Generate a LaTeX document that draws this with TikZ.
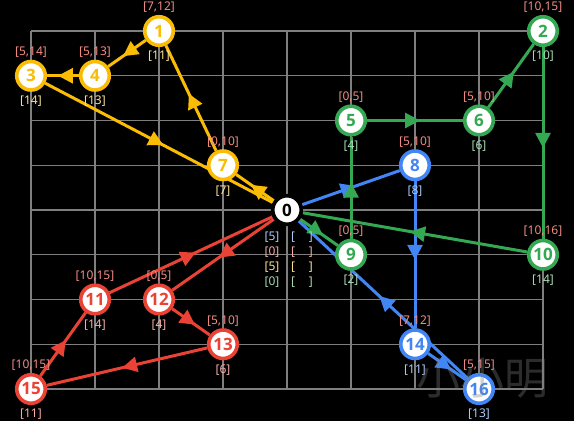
\documentclass[tikz,border=0pt]{standalone}
\usepackage{fontspec}
\setmainfont{Noto Sans}
\newfontfamily\numfont{Open Sans}
\newfontfamily\cjkfont{Noto Sans CJK SC}
\usetikzlibrary{arrows.meta,decorations.markings}
\definecolor{gyellow}{HTML}{FBBC05}
\definecolor{ggreen}{HTML}{34A853}
\definecolor{gblue}{HTML}{4285F4}
\definecolor{gred}{HTML}{EA4335}
\definecolor{lyellow}{HTML}{FDE293}
\definecolor{lgreen}{HTML}{A8DAB5}
\definecolor{lblue}{HTML}{AECBFA}
\definecolor{lred}{HTML}{F6AEA9}
\definecolor{wincol}{HTML}{F28B82}
\definecolor{gridcol}{HTML}{7F7F7F}
\pgfdeclarelayer{back}
\pgfdeclarelayer{edges}
\pgfsetlayers{back,edges,main}
\begin{document}
\begin{tikzpicture}[x=64pt,y=-44.75pt,
 vtx/.style={circle,draw=#1,fill=white,line width=3.6pt,minimum size=28.5pt,inner sep=0pt,text=#1,font=\numfont\bfseries\fontsize{17}{17}\selectfont},
 window/.style={label={[text=wincol,font=\fontsize{12}{12}\selectfont,anchor=center,yshift=7.5pt]90:{#1}}},
 arrive/.style 2 args={label={[text=#1,font=\fontsize{12}{12}\selectfont,anchor=center,yshift=-9.5pt]-90:{#2}}},
 route/.style={draw=#1,line width=3pt,postaction={decorate},decoration={markings,mark=at position 0.5 with {\arrow[xshift=5pt]{Triangle[length=15pt,width=15pt,color=#1]}}}},
 tag/.style={text=#1,font=\fontsize{12}{12}\selectfont}]
 \useasboundingbox (-31pt,31pt) rectangle (543pt,-390pt);
 \begin{pgfonlayer}{back}
 \fill[black] (-31pt,31pt) rectangle (543pt,-390pt);
 \foreach \i in {0,...,8} {
     \draw[gridcol,line width=1.2pt] (\i,0) -- (\i,8);
     \draw[gridcol,line width=1.2pt] (0,\i) -- (8,\i);
 }
 \end{pgfonlayer}
 % depot
 \node[vtx=black] (n0) at (4,4) {0};
 \node[tag=lblue,xshift=-15pt,yshift=-27pt] (s1) at (n0) {[5]};
 \node[tag=lred,xshift=-15pt,yshift=-42pt] (s2) at (n0) {[0]};
 \node[tag=lyellow,xshift=-15pt,yshift=-57pt] (s3) at (n0) {[5]};
 \node[tag=lgreen,xshift=-15pt,yshift=-72pt] (s4) at (n0) {[0]};
 \node[tag=lblue,xshift=15pt,yshift=-27pt] (e1) at (n0) {[\hphantom{00}]};
 \node[tag=lred,xshift=15pt,yshift=-42pt] (e2) at (n0) {[\hphantom{00}]};
 \node[tag=lyellow,xshift=15pt,yshift=-57pt] (e3) at (n0) {[\hphantom{00}]};
 \node[tag=lgreen,xshift=15pt,yshift=-72pt] (e4) at (n0) {[\hphantom{00}]};
 % customers
 \node[vtx=gyellow,window={[7,12]},arrive={lyellow}{[11]}] (n1) at (2,0) {1};
 \node[vtx=ggreen,window={[10,15]},arrive={lgreen}{[10]}] (n2) at (8,0) {2};
 \node[vtx=gyellow,window={[5,14]},arrive={lyellow}{[14]}] (n3) at (0,1) {3};
 \node[vtx=gyellow,window={[5,13]},arrive={lyellow}{[13]}] (n4) at (1,1) {4};
 \node[vtx=ggreen,window={[0,5]},arrive={lgreen}{[4]}] (n5) at (5,2) {5};
 \node[vtx=ggreen,window={[5,10]},arrive={lgreen}{[6]}] (n6) at (7,2) {6};
 \node[vtx=gyellow,window={[0,10]},arrive={lyellow}{[7]}] (n7) at (3,3) {7};
 \node[vtx=gblue,window={[5,10]},arrive={lblue}{[8]}] (n8) at (6,3) {8};
 \node[vtx=ggreen,window={[0,5]},arrive={lgreen}{[2]}] (n9) at (5,5) {9};
 \node[vtx=ggreen,window={[10,16]},arrive={lgreen}{[14]}] (n10) at (8,5) {10};
 \node[vtx=gred,window={[10,15]},arrive={lred}{[14]}] (n11) at (1,6) {11};
 \node[vtx=gred,window={[0,5]},arrive={lred}{[4]}] (n12) at (2,6) {12};
 \node[vtx=gred,window={[5,10]},arrive={lred}{[6]}] (n13) at (3,7) {13};
 \node[vtx=gblue,window={[7,12]},arrive={lblue}{[11]}] (n14) at (6,7) {14};
 \node[vtx=gred,window={[10,15]},arrive={lred}{[11]}] (n15) at (0,8) {15};
 \node[vtx=gblue,window={[5,15]},arrive={lblue}{[13]}] (n16) at (7,8) {16};
 % routes
 \begin{pgfonlayer}{edges}
 \draw[route=gblue] (n0) -- (n8);
 \draw[route=gblue] (n8) -- (n14);
 \draw[route=gblue] (n14) -- (n16);
 \draw[route=gblue] (n16) -- (n0);
 \draw[route=ggreen] (n0) -- (n9);
 \draw[route=ggreen] (n9) -- (n5);
 \draw[route=ggreen] (n5) -- (n6);
 \draw[route=ggreen] (n6) -- (n2);
 \draw[route=ggreen] (n2) -- (n10);
 \draw[route=ggreen] (n10) -- (n0);
 \draw[route=gred] (n0) -- (n12);
 \draw[route=gred] (n12) -- (n13);
 \draw[route=gred] (n13) -- (n15);
 \draw[route=gred] (n15) -- (n11);
 \draw[route=gred] (n11) -- (n0);
 \draw[route=gyellow] (n0) -- (n7);
 \draw[route=gyellow] (n7) -- (n1);
 \draw[route=gyellow] (n1) -- (n4);
 \draw[route=gyellow] (n4) -- (n3);
 \draw[route=gyellow] (n3) -- (n0);
 \end{pgfonlayer}
 \node[text=gray,opacity=0.35,font=\cjkfont\fontsize{44}{44}\selectfont] (mark) at (7.05,7.75) {小小明};
\end{tikzpicture}
\end{document}
